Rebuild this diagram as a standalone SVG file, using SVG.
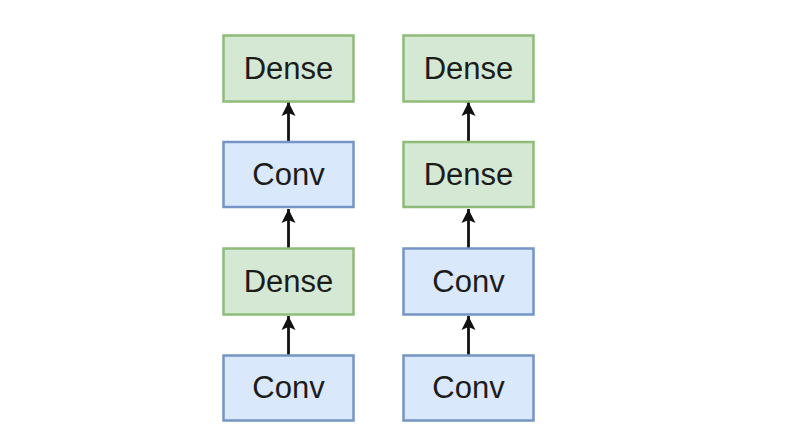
<svg xmlns="http://www.w3.org/2000/svg" width="808" height="438" viewBox="0 0 808 438">
<style>
.dense rect{fill:#d5e8d4;stroke:#8fbb79;stroke-width:2.5}
.conv rect{fill:#dae8fc;stroke:#7594c6;stroke-width:2.5}
text{font-family:"Liberation Sans",Arial,sans-serif;font-size:31px;fill:#1c1c1c;text-anchor:middle}
.edge{stroke:#111;stroke-width:2.8;fill:none;marker-end:url(#ah)}
</style>
<defs>
<marker id="ah" markerUnits="userSpaceOnUse" markerWidth="16" markerHeight="16" refX="14" refY="7" orient="auto" viewBox="0 0 16 14">
<path d="M0,0 L14,7 L0,14 L3,7 Z" fill="#111"/>
</marker>
</defs>
<rect width="808" height="438" fill="#ffffff"/>
<g id="connectors">
<path class="edge" d="M288.5,355 L288.5,316"/>
<path class="edge" d="M288.5,248 L288.5,209"/>
<path class="edge" d="M288.5,141 L288.5,102"/>
<path class="edge" d="M468.5,355 L468.5,316"/>
<path class="edge" d="M468.5,248 L468.5,209"/>
<path class="edge" d="M468.5,141 L468.5,102"/>
</g>
<g id="l-dense-top" class="dense"><rect x="223.5" y="35.5" width="130" height="66"/><text x="288.5" y="79">Dense</text></g>
<g id="l-conv-2" class="conv"><rect x="223.5" y="142" width="130" height="65"/><text x="288.5" y="185">Conv</text></g>
<g id="l-dense-3" class="dense"><rect x="223.5" y="248.5" width="130" height="66"/><text x="288.5" y="292">Dense</text></g>
<g id="l-conv-bottom" class="conv"><rect x="223.5" y="355.5" width="130" height="65"/><text x="288.5" y="398">Conv</text></g>
<g id="r-dense-top" class="dense"><rect x="403.5" y="35.5" width="130" height="66"/><text x="468.5" y="79">Dense</text></g>
<g id="r-dense-2" class="dense"><rect x="403.5" y="142" width="130" height="65"/><text x="468.5" y="185">Dense</text></g>
<g id="r-conv-3" class="conv"><rect x="403.5" y="248.5" width="130" height="66"/><text x="468.5" y="292">Conv</text></g>
<g id="r-conv-bottom" class="conv"><rect x="403.5" y="355.5" width="130" height="65"/><text x="468.5" y="398">Conv</text></g>
</svg>
